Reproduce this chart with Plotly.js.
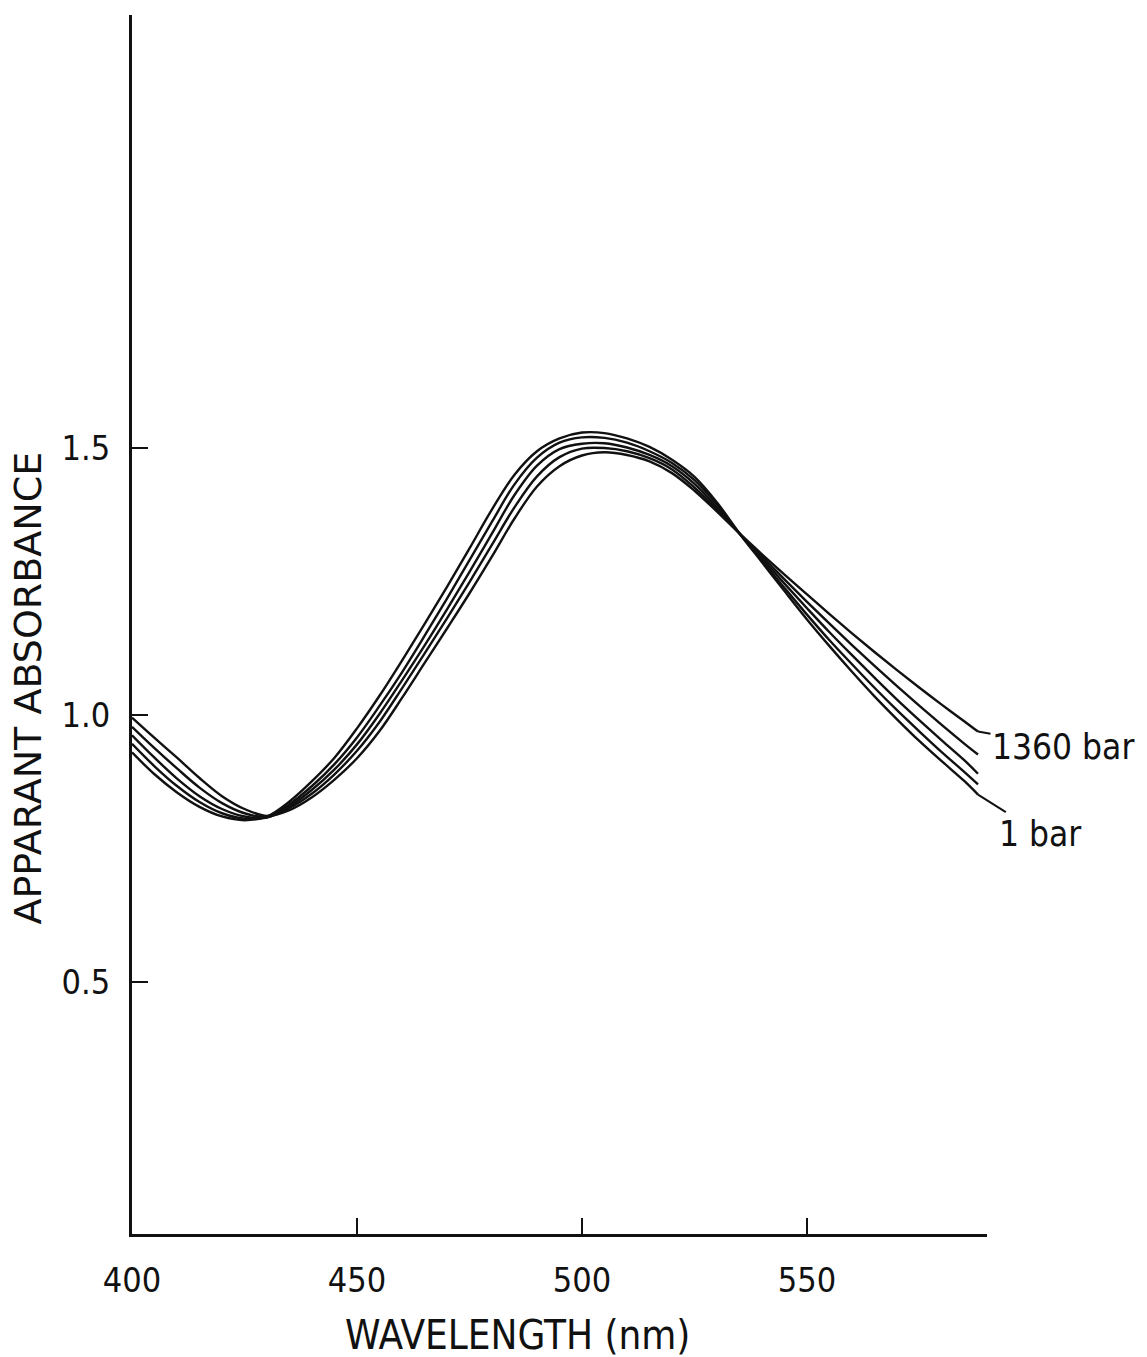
<!DOCTYPE html>
<html>
<head>
<meta charset="utf-8">
<script src="https://cdn.plot.ly/plotly-3.0.1.min.js"></script>
<style>
  html, body { margin: 0; padding: 0; background: #ffffff; }
  #chart { width: 1147px; height: 1357px; }
</style>
</head>
<body>
<div id="chart"></div>
<script>
// Wavelength grid (nm)
const wavelength = [400,405,410,415,420,425,430,435,440,445,450,455,460,465,470,475,480,485,490,495,500,505,510,515,520,525,530,535,540,545,550,555,560,565,570,575,580,585,588];

// Apparent absorbance, 1 bar
const abs1bar = [0.930,0.889,0.855,0.828,0.810,0.803,0.810,0.838,0.876,0.920,0.975,1.036,1.102,1.170,1.240,1.312,1.385,1.450,1.494,1.518,1.529,1.528,1.518,1.502,1.478,1.446,1.398,1.340,1.286,1.232,1.179,1.129,1.081,1.035,0.992,0.951,0.913,0.876,0.851];
// intermediate pressures
const absP2 = [0.946,0.904,0.867,0.837,0.816,0.806,0.809,0.833,0.867,0.908,0.958,1.017,1.080,1.148,1.218,1.290,1.362,1.432,1.482,1.510,1.520,1.519,1.510,1.494,1.472,1.440,1.394,1.340,1.289,1.238,1.188,1.140,1.095,1.051,1.009,0.969,0.930,0.893,0.870];
const absP3 = [0.962,0.920,0.881,0.848,0.824,0.810,0.808,0.829,0.860,0.898,0.945,1.002,1.065,1.130,1.198,1.268,1.340,1.412,1.467,1.498,1.508,1.509,1.501,1.487,1.466,1.433,1.389,1.340,1.293,1.246,1.200,1.155,1.112,1.070,1.029,0.990,0.952,0.915,0.890];
const absP4 = [0.978,0.938,0.900,0.864,0.835,0.816,0.809,0.826,0.853,0.889,0.933,0.987,1.050,1.115,1.181,1.249,1.319,1.389,1.447,1.483,1.499,1.500,1.494,1.481,1.460,1.426,1.385,1.340,1.297,1.254,1.212,1.171,1.131,1.092,1.054,1.017,0.981,0.946,0.926];
// 1360 bar
const abs1360bar = [0.995,0.957,0.920,0.882,0.848,0.824,0.811,0.822,0.846,0.879,0.919,0.970,1.032,1.097,1.162,1.228,1.297,1.368,1.428,1.466,1.486,1.492,1.487,1.475,1.453,1.420,1.381,1.340,1.301,1.263,1.226,1.189,1.153,1.118,1.084,1.051,1.019,0.988,0.969];

const seriesNames = ["1 bar", "P2", "P3", "P4", "1360 bar"];
const seriesValues = [abs1bar, absP2, absP3, absP4, abs1360bar];

const xTickVals = [400, 450, 500, 550];
const xTickText = ["400", "450", "500", "550"];
const yTickVals = [0.5, 1.0, 1.5];
const yTickText = ["0.5", "1.0", "1.5"];

const labelTop = "1360 bar";
const labelBottom = "1 bar";
const xTitle = "WAVELENGTH (nm)";
const yTitle = "APPARANT ABSORBANCE";

const FONT = "DejaVu Sans Condensed, DejaVu Sans, sans-serif";

const traces = seriesValues.map((vals, i) => ({
  type: "scatter",
  mode: "lines",
  name: seriesNames[i],
  x: wavelength,
  y: vals,
  line: { color: "#111111", width: 2.4, shape: "spline", smoothing: 1 },
  hoverinfo: "x+y+name"
}));

const lastIdx = wavelength.length - 1;

const layout = {
  width: 1147,
  height: 1357,
  margin: { l: 132, r: 160, t: 15, b: 123 },
  paper_bgcolor: "#ffffff",
  plot_bgcolor: "#ffffff",
  showlegend: false,
  font: { family: FONT, color: "#111111" },
  xaxis: {
    range: [400, 590],
    showgrid: false,
    zeroline: false,
    showline: true,
    linecolor: "#111111",
    linewidth: 3,
    ticks: "inside",
    ticklen: 16,
    tickwidth: 2,
    tickcolor: "#111111",
    tickmode: "array",
    tickvals: xTickVals,
    ticktext: xTickText,
    ticklabelstandoff: 14,
    tickfont: { family: FONT, size: 34, color: "#111111" }
  },
  yaxis: {
    range: [0.028, 2.311],
    showgrid: false,
    zeroline: false,
    showline: true,
    linecolor: "#111111",
    linewidth: 3,
    ticks: "inside",
    ticklen: 16,
    tickwidth: 2,
    tickcolor: "#111111",
    tickmode: "array",
    tickvals: yTickVals,
    ticktext: yTickText,
    ticklabelstandoff: 12,
    tickfont: { family: FONT, size: 34, color: "#111111" }
  },
  annotations: [
    {
      xref: "x", yref: "y",
      x: wavelength[lastIdx], y: abs1360bar[lastIdx],
      text: labelTop,
      showarrow: true, arrowhead: 0, arrowwidth: 2, arrowcolor: "#111111",
      standoff: 0,
      ax: 85, ay: 15,
      font: { family: FONT, size: 35, color: "#111111" }
    },
    {
      xref: "x", yref: "y",
      x: wavelength[lastIdx], y: abs1bar[lastIdx],
      text: labelBottom,
      showarrow: true, arrowhead: 0, arrowwidth: 2, arrowcolor: "#111111",
      standoff: 0,
      ax: 62, ay: 39,
      font: { family: FONT, size: 35, color: "#111111" }
    },
    {
      xref: "paper", yref: "paper",
      x: -0.122, y: 0.448,
      xanchor: "center", yanchor: "middle",
      textangle: -90,
      text: yTitle,
      showarrow: false,
      font: { family: "DejaVu Sans, sans-serif", size: 38, color: "#111111" }
    },
    {
      xref: "paper", yref: "paper",
      x: 0.451, y: -0.083,
      xanchor: "center", yanchor: "middle",
      text: xTitle,
      showarrow: false,
      font: { family: FONT, size: 40, color: "#111111" }
    }
  ]
};

Plotly.newPlot("chart", traces, layout, { displayModeBar: false, responsive: false });
</script>
</body>
</html>
